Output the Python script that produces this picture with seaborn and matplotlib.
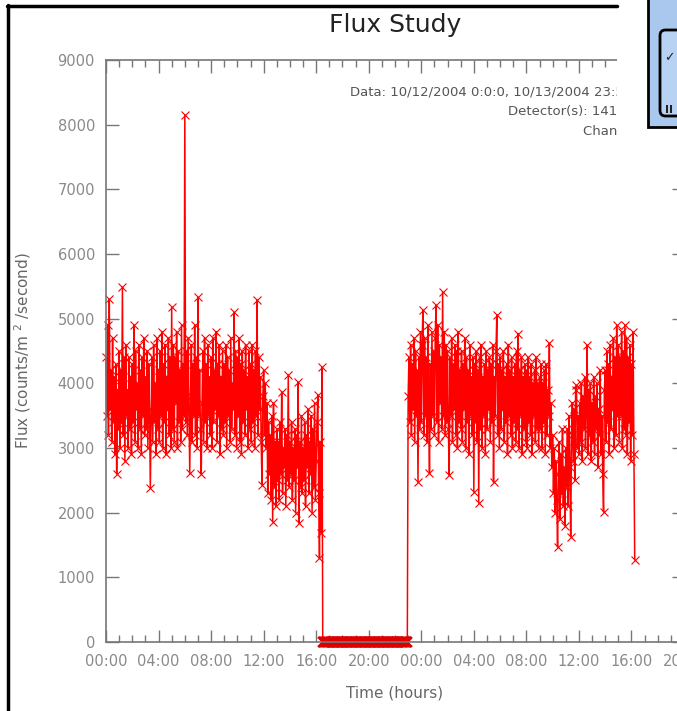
import numpy as np
import pandas as pd
import matplotlib
matplotlib.use('Agg')
import matplotlib.pyplot as plt
import seaborn as sns
from matplotlib.patches import Rectangle, FancyBboxPatch
from matplotlib.lines import Line2D
from matplotlib.ticker import MultipleLocator, FuncFormatter

# sampling grid (hours since 10/12/2004 00:00), 16 samples per hour
step_h = 1 / 16
day1_start = 0.0
gap_start = 16.5
day2_start = 23.0

# flux, one hour per row
day1_flux = [
    4400, 3500, 4900, 3200, 5300, 3600, 4200, 3100, 4700, 3400, 4100, 2900, 4300, 2600, 3900, 3300,
    4500, 3000, 4200, 3400, 5490, 3200, 4400, 2800, 4600, 3500, 3900, 3000, 4400, 3300, 4100, 2900,
    4300, 3400, 4900, 3100, 4500, 3600, 4000, 3000, 4600, 3300, 4200, 2900, 4400, 3500, 4700, 3200,
    4100, 3300, 4500, 3000, 4300, 3600, 2380, 3500, 4400, 3100, 4600, 3400, 4000, 2900, 4700, 3300,
    4200, 3100, 4500, 3500, 4800, 3000, 4300, 3400, 4600, 2900, 4100, 3600, 4700, 3200, 4400, 3000,
    5180, 3300, 4600, 3100, 4400, 3700, 4800, 3000, 4500, 3400, 4200, 3100, 4900, 3300, 4300, 3500,
    8150, 3400, 4500, 3200, 4700, 3600, 2610, 3800, 4600, 3100, 4300, 3500, 4900, 3200, 4400, 3000,
    5330, 3500, 4200, 3300, 2600, 3700, 4500, 3100, 4700, 3400, 4300, 3000, 4600, 3500, 4100, 3200,
    4400, 3000, 4700, 3400, 4200, 3600, 4800, 3100, 4300, 3500, 4600, 2900, 4100, 3300, 4500, 3200,
    4300, 3400, 4600, 3000, 4400, 3500, 4200, 3100, 4700, 3300, 4000, 3600, 5100, 3200, 4500, 3000,
    4400, 3500, 4700, 3100, 4300, 2900, 4500, 3400, 4200, 3200, 4600, 3600, 4100, 3000, 4500, 3300,
    4300, 3100, 4600, 3400, 4200, 3000, 4500, 3500, 5290, 3200, 4400, 3600, 4100, 3100, 2430, 3800,
    4200, 3200, 4000, 3000, 3700, 2300, 3400, 2600, 3200, 2200, 3500, 1860, 3690, 2400, 3100, 2100,
    3300, 2500, 3100, 2200, 3400, 2600, 3870, 2300, 3000, 2700, 3300, 2100, 3200, 2500, 4130, 2400,
    3100, 2600, 3400, 2200, 3000, 2500, 3300, 2000, 3200, 2700, 4020, 1840, 3100, 2400, 3500, 2300,
    3000, 2500, 3400, 2100, 3200, 2700, 3600, 2300, 3100, 2600, 3500, 2000, 3300, 2400, 3700, 2200,
    2800, 3400, 3820, 2300, 1300, 3100, 1690, 4250,
]

# detector off: flux stays at zero
gap_flux = [0] * 104

day2_flux = [
    3800, 4400, 3400, 4600, 3200, 4300, 3600, 4700, 3100, 4500, 3500, 4200, 2470, 4400, 3300, 4800,
    3400, 4600, 5130, 3200, 4700, 3500, 4400, 3100, 4900, 3600, 2610, 4300, 3300, 4800, 3500, 4500,
    3200, 4700, 5210, 3400, 4900, 3100, 4600, 3700, 4400, 3300, 5410, 3500, 4800, 3200, 4600, 3400,
    4500, 3300, 2580, 4400, 3500, 4700, 3100, 4300, 3600, 4600, 3200, 4500, 3000, 4800, 3400, 4200,
    3300, 4500, 3100, 4300, 3600, 4700, 3000, 4400, 3400, 4200, 2900, 4600, 3500, 4100, 3200, 4400,
    2320, 4300, 3400, 4500, 3100, 4200, 2150, 4400, 3300, 4600, 3000, 4100, 3500, 4300, 2900, 4500,
    3300, 4200, 3600, 4400, 3100, 4300, 3400, 4600, 2470, 4100, 3500, 4500, 5060, 3200, 4300, 3000,
    4400, 3300, 4200, 3600, 4500, 3100, 4100, 3400, 4300, 2900, 4600, 3500, 4200, 3200, 4400, 3000,
    4100, 3400, 4300, 3100, 4500, 3300, 4770, 3000, 4200, 3500, 4400, 2900, 4100, 3300, 4300, 3100,
    4200, 3000, 4400, 3400, 4100, 3200, 4300, 2900, 4000, 3500, 4200, 3100, 4400, 3300, 4000, 3000,
    4100, 3300, 4300, 3000, 4000, 3400, 4200, 2900, 4300, 3200, 3900, 3500, 4620, 3000, 3700, 2700,
    3200, 2300, 3000, 2000, 2800, 2200, 1470, 2600, 3100, 1900, 2900, 2300, 3300, 2100, 2700, 1800,
    3000, 2400, 3300, 2100, 3500, 2700, 1630, 3200, 3700, 2800, 3600, 2500, 3900, 3970, 3000, 3500,
    2900, 3700, 3100, 4000, 2800, 3800, 3300, 4100, 3000, 3600, 4590, 2900, 3900, 3200, 4000, 2800,
    3700, 3100, 4100, 2900, 3800, 3300, 4000, 2700, 3600, 3200, 4200, 2900, 3500, 2600, 2010, 3900,
    4200, 3100, 4500, 3400, 4300, 2900, 4600, 3300, 4100, 3600, 4700, 3000, 4400, 3200, 4900, 3500,
    4600, 3100, 4400, 3500, 4800, 3000, 4500, 3300, 4900, 3200, 4700, 2900, 4400, 3400, 4600, 2800,
    4300, 3200, 4790, 2900, 1270,
]

annot_lines = ['Data: 10/12/2004 0:0:0, 10/13/2004 23:59:59',
               'Detector(s): 1419',
               'Channel(s): 1,2,3,4']

hours = np.concatenate([
    day1_start + step_h * np.arange(len(day1_flux)),
    gap_start + step_h * np.arange(len(gap_flux)),
    day2_start + step_h * np.arange(len(day2_flux)),
])
df = pd.DataFrame({'hours': hours, 'flux': day1_flux + gap_flux + day2_flux})
df_gap = df[df['flux'] == 0]

sns.set_theme(style='ticks')
plt.rcParams['font.family'] = ['DejaVu Sans']

W, H = 677, 711
fig = plt.figure(figsize=(W / 100, H / 100), dpi=100)
fig.patch.set_facecolor('white')


def px(x, y):
    return x / W, 1 - y / H


ax = fig.add_axes([106 / W, 1 - 642 / H, (684 - 106) / W, (642 - 60) / H])
sns.lineplot(data=df, x='hours', y='flux', sort=False, estimator=None,
             color='#ff0000', linewidth=1.1, marker='x', markersize=5.5,
             markeredgewidth=0.8, markeredgecolor='#ff0000', clip_on=False, ax=ax)
# the long run of zeros shows as a heavy band
sns.lineplot(data=df_gap, x='hours', y='flux', sort=False, estimator=None,
             color='#dd0000', linewidth=7, marker='x', markersize=7,
             markeredgewidth=1.6, markeredgecolor='#dd0000',
             solid_capstyle='butt', clip_on=False, ax=ax)

ax.set_xlim(0, 44)
ax.set_ylim(0, 9000)
ax.xaxis.set_major_locator(MultipleLocator(4))
ax.xaxis.set_minor_locator(MultipleLocator(1))
ax.yaxis.set_major_locator(MultipleLocator(1000))
ax.xaxis.set_major_formatter(FuncFormatter(lambda h, p: f'{int(round(h)) % 24:02d}:00'))
ax.tick_params(which='both', direction='in', top=True, right=True,
               color='#777777', labelcolor='#8a8a8a', labelsize=10.5)
ax.tick_params(which='major', length=9, width=1)
ax.tick_params(which='minor', length=5, width=1)
ax.tick_params(axis='y', pad=8)
ax.tick_params(axis='x', pad=9)
for s in ax.spines.values():
    s.set_color('#777777')
    s.set_linewidth(1.2)

ax.set_xlabel('Time (hours)', fontsize=11, color='#666666')
ax.set_ylabel('Flux (counts/m $^{2}$ /second)', fontsize=11, color='#666666')
ax.xaxis.set_label_coords(0.5, -0.075)
ax.yaxis.set_label_coords(-0.127, 0.5)

fig.text(*px(395, 25), 'Flux Study', ha='center', va='center',
         fontsize=18, color='#222222')

for (x0, y0), line in zip([(350, 92), (508, 111), (583, 131)], annot_lines):
    fig.text(*px(x0, y0), line, ha='left', va='center', fontsize=9.5,
             color='#555555', zorder=0.5)

# page fragments around the chart
fig.add_artist(Rectangle(px(617, 142), 60 / W, 142 / H, transform=fig.transFigure,
                         facecolor='white', edgecolor='none', zorder=1))
fig.add_artist(Line2D([8 / W, 8 / W], [0, 1 - 5 / H], transform=fig.transFigure,
                      color='black', linewidth=2.5, zorder=2))
fig.add_artist(Line2D([7 / W, 617 / W], [1 - 6 / H, 1 - 6 / H], transform=fig.transFigure,
                      color='black', linewidth=2.5, zorder=2))
fig.add_artist(Rectangle(px(648, 127), 40 / W, 135 / H, transform=fig.transFigure,
                         facecolor='#aac8ee', edgecolor='black', linewidth=2, zorder=2))
fig.add_artist(FancyBboxPatch(px(660, 116), 30 / W, 86 / H, transform=fig.transFigure,
                              boxstyle='round,pad=0,rounding_size=0.008',
                              facecolor='#b7d2f2', edgecolor='black', linewidth=2, zorder=3))
fig.text(*px(664, 58), '\u2713', fontsize=9, color='#222222', va='center', zorder=4)
fig.text(*px(665, 110), 'II', fontsize=8, fontweight='bold', color='#222222',
         va='center', zorder=4)

fig.savefig('out.png', dpi=100, facecolor='white')
